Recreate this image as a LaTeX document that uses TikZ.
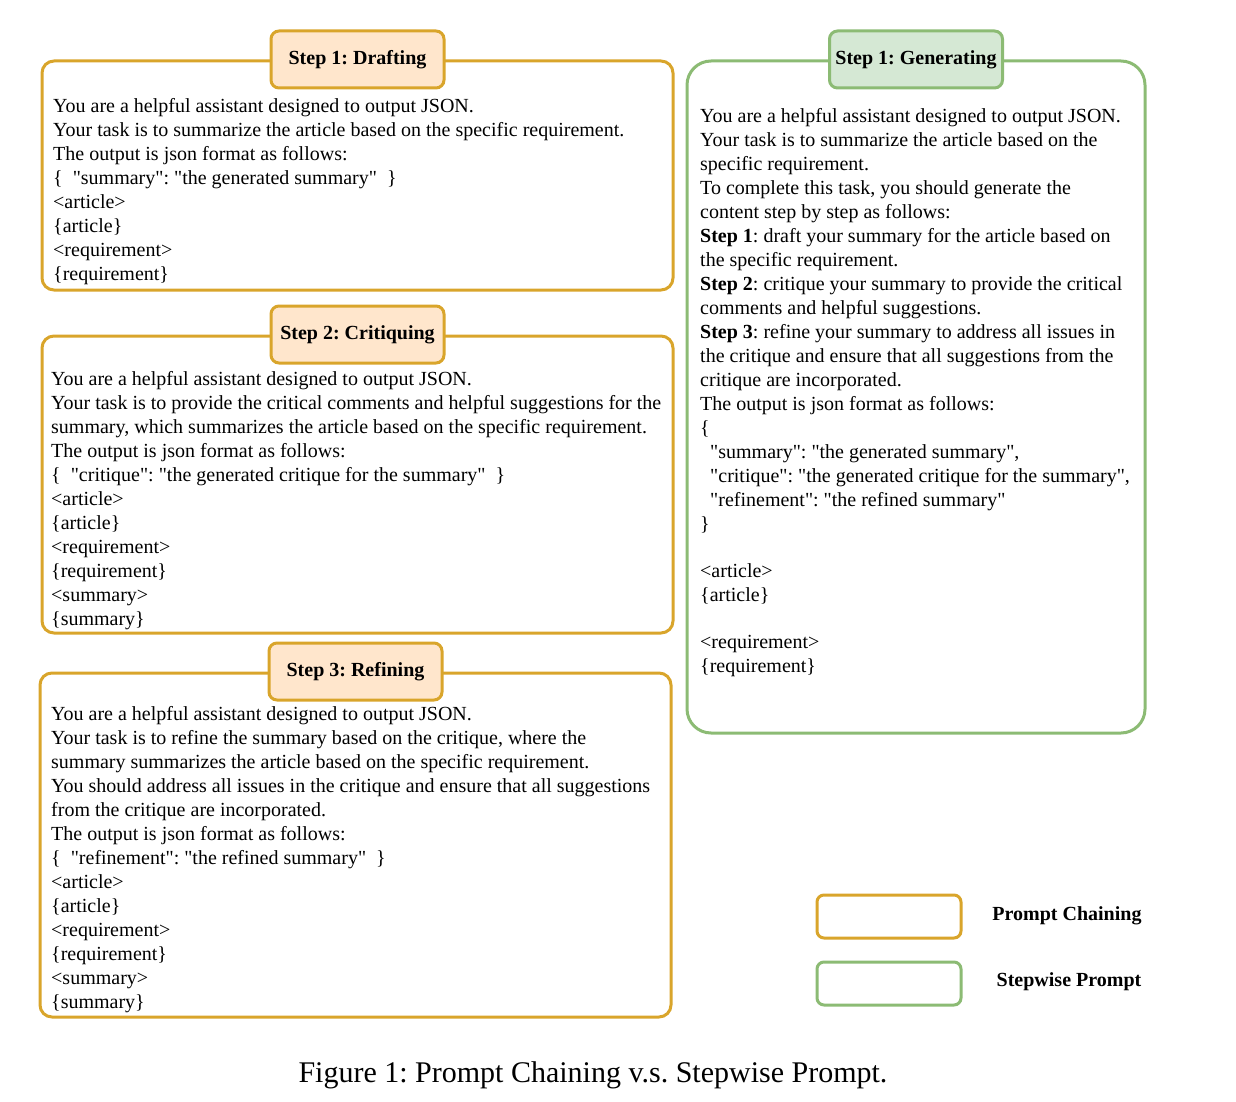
\documentclass[tikz,border=0pt]{standalone}
\usepackage{fontspec}
\setmainfont{Liberation Serif}[Ligatures=TeXOff]
\usetikzlibrary{positioning,fit}
\definecolor{chainline}{HTML}{D9A52B}
\definecolor{chainfill}{HTML}{FFE6CC}
\definecolor{stepline}{HTML}{8CBB74}
\definecolor{stepfill}{HTML}{D5E8D4}
\newcommand{\promptfont}{\fontsize{20}{24}\selectfont}
\newcommand{\titlefont}{\fontsize{20}{24}\selectfont\bfseries}
\frenchspacing

\begin{document}
\begin{tikzpicture}[
    x=1pt, y=-1pt,
    chainbox/.style={draw=chainline, line width=3pt, rounded corners=12pt, inner sep=0pt},
    stepbox/.style={draw=stepline, line width=3pt, rounded corners=24pt, inner sep=0pt},
    chaintitle/.style={draw=chainline, fill=chainfill, line width=3pt, rounded corners=8pt,
                       minimum width=173pt, minimum height=57pt, inner sep=0pt, font=\titlefont},
    steptitle/.style={chaintitle, draw=stepline, fill=stepfill},
    prompt/.style={anchor=north west, align=left, inner sep=0pt, font=\promptfont},
    keybox/.style={draw=#1, line width=3pt, rounded corners=7pt, minimum width=144pt, minimum height=43pt},
    keylabel/.style={font=\titlefont},
]
\useasboundingbox (0,0) rectangle (1236,1102);

% Prompt chaining: three boxes on the left.
\node[chainbox, fit={(42,61)(673,290)}] (draftBox) {};
\node[chaintitle] (draftTitle) at (draftBox.north) {Step 1: Drafting};
\node[prompt] (draftText) at (53,98) {%
You are a helpful assistant designed to output JSON.\\
Your task is to summarize the article based on the specific requirement.\\
The output is json format as follows:\\
\{\ \ "summary": "the generated summary"\ \ \}\\
<article>\\
\{article\}\\
<requirement>\\
\{requirement\}};

\node[chainbox, fit={(42,336)(673,633)}] (critBox) {};
\node[chaintitle] (critTitle) at (critBox.north) {Step 2: Critiquing};
\node[prompt] (critText) at (51,371) {%
You are a helpful assistant designed to output JSON.\\
Your task is to provide the critical comments and helpful suggestions for the\\
summary, which summarizes the article based on the specific requirement.\\
The output is json format as follows:\\
\{\ \ "critique": "the generated critique for the summary"\ \ \}\\
<article>\\
\{article\}\\
<requirement>\\
\{requirement\}\\
<summary>\\
\{summary\}};

\node[chainbox, fit={(40,673)(671,1017)}] (refineBox) {};
\node[chaintitle] (refineTitle) at (refineBox.north) {Step 3: Refining};
\node[prompt] (refineText) at (51,706) {%
You are a helpful assistant designed to output JSON.\\
Your task is to refine the summary based on the critique, where the\\
summary summarizes the article based on the specific requirement.\\
You should address all issues in the critique and ensure that all suggestions\\
from the critique are incorporated.\\
The output is json format as follows:\\
\{\ \ "refinement": "the refined summary"\ \ \}\\
<article>\\
\{article\}\\
<requirement>\\
\{requirement\}\\
<summary>\\
\{summary\}};

% Stepwise prompt: one box on the right.
\node[stepbox, fit={(687,61)(1145,733)}] (genBox) {};
\node[steptitle] (genTitle) at (genBox.north) {Step 1: Generating};
\node[prompt] (genText) at (700,108) {%
You are a helpful assistant designed to output JSON.\\
Your task is to summarize the article based on the\\
specific requirement.\\
To complete this task, you should generate the\\
content step by step as follows:\\
\textbf{Step 1}: draft your summary for the article based on\\
the specific requirement.\\
\textbf{Step 2}: critique your summary to provide the critical\\
comments and helpful suggestions.\\
\textbf{Step 3}: refine your summary to address all issues in\\
the critique and ensure that all suggestions from the\\
critique are incorporated.\\
The output is json format as follows:\\
\{\\
\hspace*{10pt}"summary": "the generated summary",\\
\hspace*{10pt}"critique": "the generated critique for the summary",\\
\hspace*{10pt}"refinement": "the refined summary"\\
\}\\[23pt]
<article>\\
\{article\}\\[23pt]
<requirement>\\
\{requirement\}};

% Legend.
\node[keybox=chainline] (chainKey) at (889,916.5) {};
\node[keylabel] (chainLabel) at (1067,916) {Prompt Chaining};
\node[keybox=stepline] (stepKey) at (889,983.5) {};
\node[keylabel] (stepLabel) at (1069,982) {Stepwise Prompt};

% Caption.
\node[font=\fontsize{30}{36}\selectfont] (caption) at (593,1075) {Figure 1: Prompt Chaining v.s. Stepwise Prompt.};
\end{tikzpicture}
\end{document}
